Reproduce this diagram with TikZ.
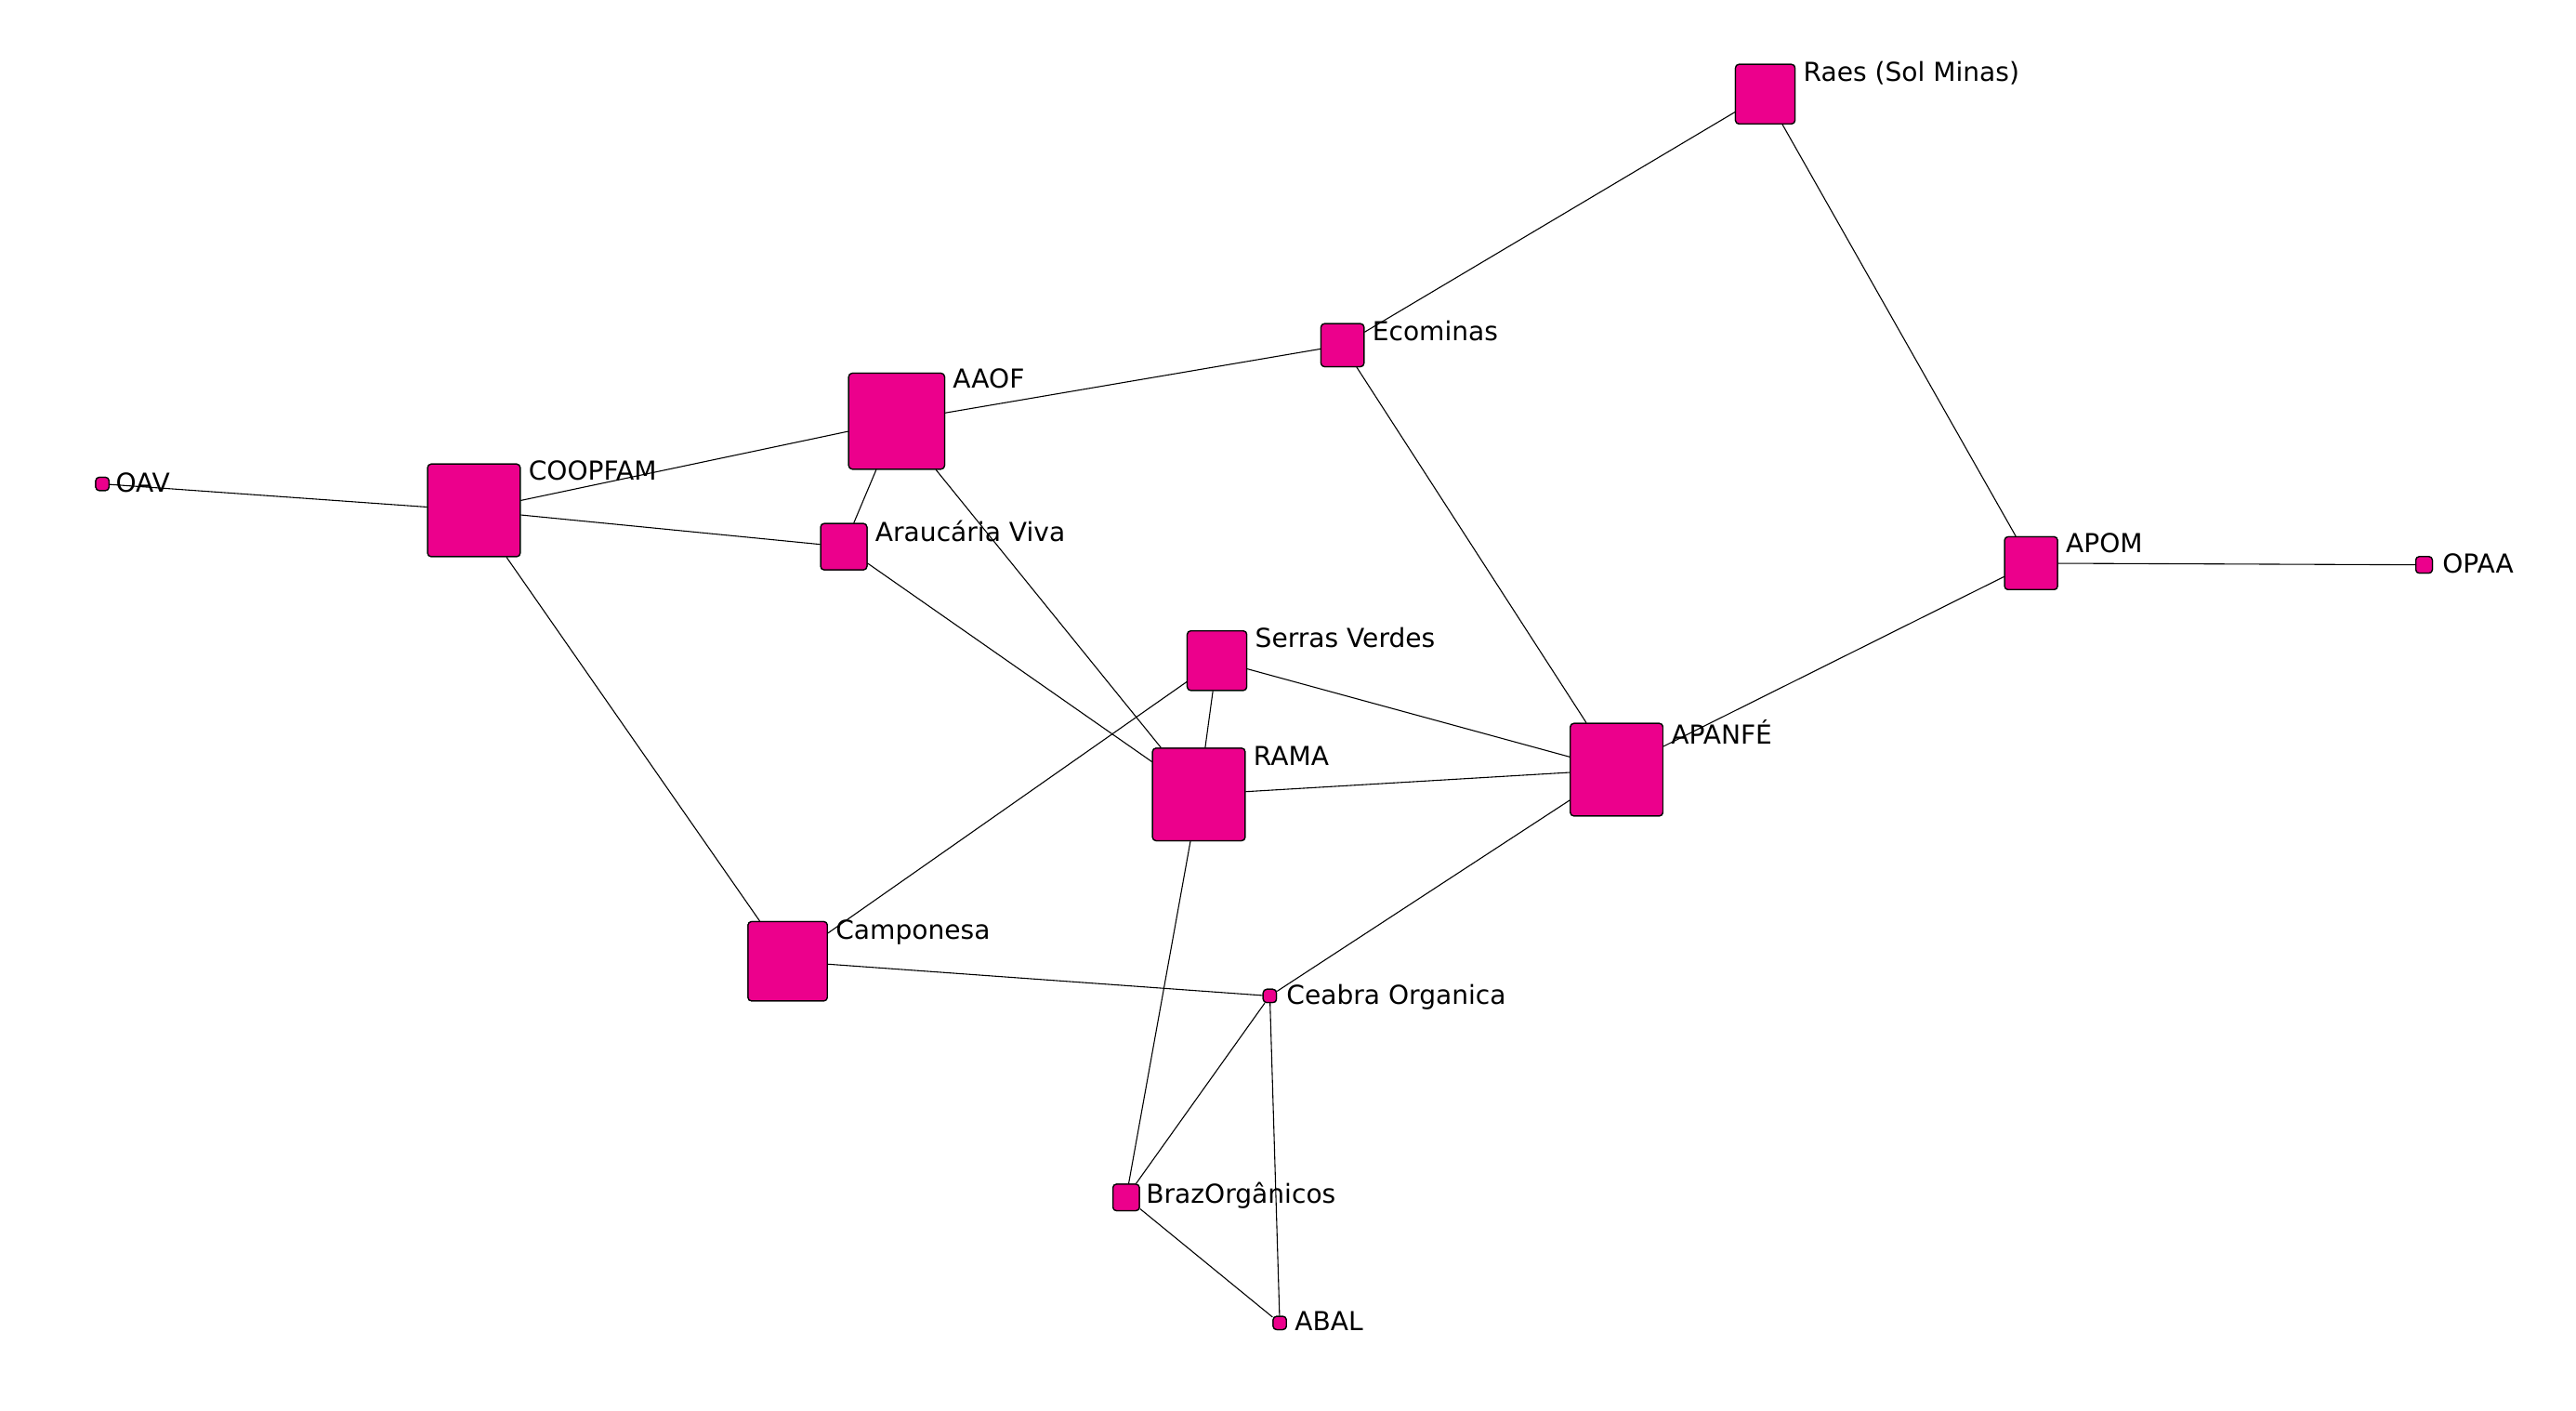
\documentclass[tikz,border=0pt]{standalone}
\usepackage{fontspec}
\setmainfont{DejaVu Sans}
\begin{document}
\begin{tikzpicture}[x=0.02cm,y=-0.02cm,
  v/.style={draw=black,fill=magenta,rounded corners=1.2pt,inner sep=0pt,minimum size=#1*0.02cm,line width=0.4pt},
  lab/.style={font=\fontsize{9}{11}\selectfont,inner sep=1pt,anchor=north west},
  e/.style={draw=black,line width=0.35pt}]
\useasboundingbox[fill=white] (0,0) rectangle (1560,854);
\node[v=8]  (oav) at (62,293) {};
\node[v=56] (coop) at (287,309) {};
\node[v=58] (aaof) at (543,255) {};
\node[v=28] (arau) at (511,331) {};
\node[v=26] (eco) at (813,209) {};
\node[v=36] (raes) at (1069,57) {};
\node[v=32] (apom) at (1230,341) {};
\node[v=10] (opaa) at (1468,342) {};
\node[v=36] (serr) at (737,400) {};
\node[v=56] (rama) at (726,481) {};
\node[v=56] (apan) at (979,466) {};
\node[v=48] (camp) at (477,582) {};
\node[v=8]  (ceab) at (769,603) {};
\node[v=16] (braz) at (682,725) {};
\node[v=8]  (abal) at (775,801) {};
\begin{scope}[on background layer/.style={}]
\end{scope}
\foreach \a/\b in {oav/coop,coop/aaof,coop/arau,coop/camp,aaof/arau,aaof/eco,aaof/rama,arau/rama,eco/raes,eco/apan,raes/apom,apom/opaa,apom/apan,serr/rama,serr/apan,serr/camp,rama/apan,rama/braz,apan/ceab,camp/ceab,ceab/braz,ceab/abal,braz/abal}
  \draw[e] (\a) -- (\b);
\foreach \n in {oav,coop,aaof,arau,eco,raes,apom,opaa,serr,rama,apan,camp,ceab,braz,abal}
  \path (\n.center) node[draw=black,fill=magenta,rounded corners=1.2pt,inner sep=0pt,minimum size=0pt] {};
% redraw nodes on top
\node[v=8]  at (62,293) {};
\node[v=56] at (287,309) {};
\node[v=58] at (543,255) {};
\node[v=28] at (511,331) {};
\node[v=26] at (813,209) {};
\node[v=36] at (1069,57) {};
\node[v=32] at (1230,341) {};
\node[v=10] at (1468,342) {};
\node[v=36] at (737,400) {};
\node[v=56] at (726,481) {};
\node[v=56] at (979,466) {};
\node[v=48] at (477,582) {};
\node[v=8]  at (769,603) {};
\node[v=16] at (682,725) {};
\node[v=8]  at (775,801) {};
\node[lab] at (68,284) {OAV};
\node[lab] at (318,277) {COOPFAM};
\node[lab] at (575,221) {AAOF};
\node[lab] at (528,313) {Araucária Viva};
\node[lab] at (829,192) {Ecominas};
\node[lab] at (1090,35) {Raes (Sol Minas)};
\node[lab] at (1249,321) {APOM};
\node[lab] at (1477,333) {OPAA};
\node[lab] at (758,378) {Serras Verdes};
\node[lab] at (757,450) {RAMA};
\node[lab] at (1010,434) {APANFÉ};
\node[lab] at (504,555) {Camponesa};
\node[lab] at (777,594) {Ceabra Organica};
\node[lab] at (692,714) {BrazOrgânicos};
\node[lab] at (782,792) {ABAL};
\end{tikzpicture}
\end{document}
